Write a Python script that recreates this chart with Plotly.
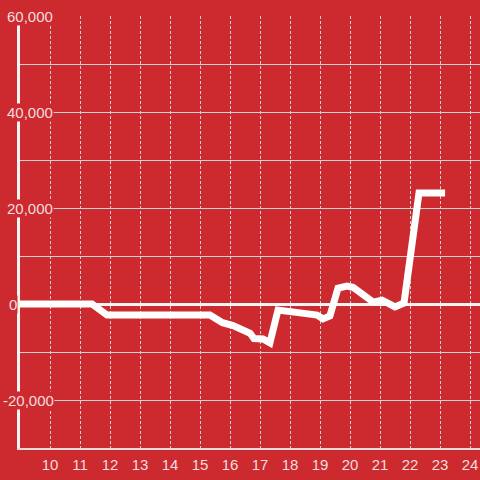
import plotly.graph_objects as go

# Data
hours = [9.0, 11.4, 11.9, 15.33, 15.75, 16.1, 16.67, 16.8, 17.1, 17.33, 17.6, 18.0, 18.4, 18.9, 19.1, 19.33,
         19.6, 19.9, 20.1, 20.77, 21.07, 21.5, 21.8, 22.3, 23.17]
values = [0, 0, -2300, -2300, -3900, -4500, -6100, -7200, -7300, -8100, -1250, -1450, -1900, -2300, -3100, -2500,
          3300, 3750, 3500, 400, 800, -600, 200, 23125, 23125]

x_tick_vals = list(range(10, 25))
y_tick_vals = [60000, 40000, 20000, 0, -20000]
y_tick_text = ["60,000", "40,000", "20,000", "0", "-20,000"]
y_tick_left_px = [6, 6, 6, 8, 2]

BG = "#CC2A2F"
TXT = "#f2dede"
GRID = "#d2d2d2"
FONT = "Liberation Sans, Arial, sans-serif"

fig = go.Figure()
fig.add_trace(go.Scatter(x=hours, y=values, mode="lines",
                         line=dict(color="#ffffff", width=7), hoverinfo="skip"))

W, H = 480, 480
ml, mr, mt, mb = 20, 0, 16, 32
pw = W - ml - mr

annotations = []
for v, t, px in zip(y_tick_vals, y_tick_text, y_tick_left_px):
    annotations.append(dict(
        x=(px - ml) / pw, xref="paper", y=v, yref="y", text=t, showarrow=False,
        xanchor="left", yanchor="middle", bgcolor=BG, borderpad=0,
        font=dict(family=FONT, size=15, color=TXT)))

fig.update_layout(
    width=W, height=H, margin=dict(l=ml, r=mr, t=mt, b=mb, autoexpand=False),
    paper_bgcolor=BG, plot_bgcolor=BG, showlegend=False,
    font=dict(family=FONT, size=15, color=TXT),
    xaxis=dict(range=[9, 24.3333], tickmode="array", tickvals=x_tick_vals,
               showgrid=True, gridcolor=GRID, gridwidth=1, griddash="3px,2px",
               showline=True, linecolor="#dcdcdc", linewidth=2,
               zeroline=False, ticks="", ticklabelstandoff=2,
               tickfont=dict(family=FONT, size=15, color=TXT)),
    yaxis=dict(range=[-30000, 60000], tickmode="linear", tick0=0, dtick=10000,
               showgrid=True, gridcolor=GRID, gridwidth=1,
               showticklabels=False,
               showline=True, linecolor="#f4f4f4", linewidth=3,
               zeroline=True, zerolinecolor="#f4f4f4", zerolinewidth=3),
    annotations=annotations,
)

fig.write_html("out.html", config={"displayModeBar": False},
               post_script="document.body.style.margin='0';document.body.style.overflow='hidden';")
